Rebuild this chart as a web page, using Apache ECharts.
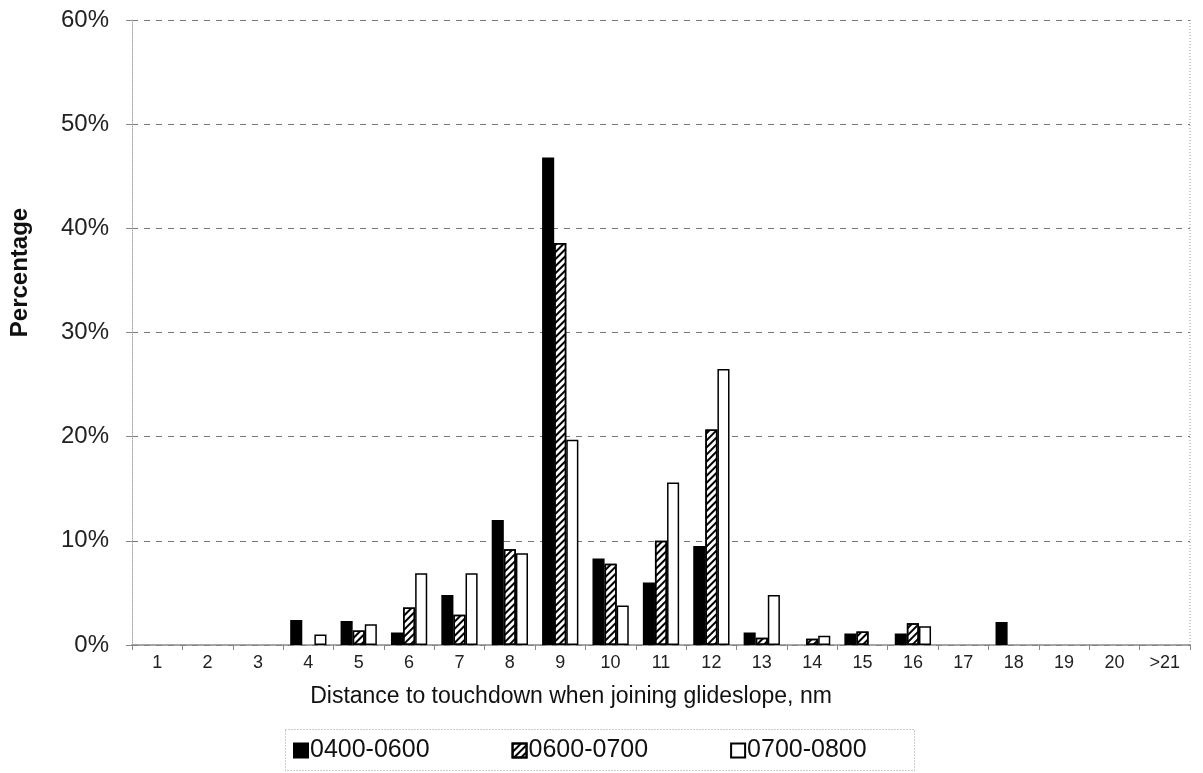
<!DOCTYPE html>
<html><head><meta charset="utf-8">
<script src="https://cdn.jsdelivr.net/npm/echarts@6/dist/echarts.min.js"></script>
<style>html,body{margin:0;padding:0;background:#fff}#c{width:1203px;height:773px}</style>
</head><body><div id="c"></div>
<script>
const categories = ['1','2','3','4','5','6','7','8','9','10','11','12','13','14','15','16','17','18','19','20','>21'];
const s0400_0600 = [null,null,null,2.4,2.3,1.2,4.8,12.0,46.8,8.3,6.0,9.5,1.2,null,1.1,1.1,null,2.2,null,null,null];
const s0600_0700 = [null,null,null,null,1.4,3.6,2.9,9.2,38.6,7.8,10.0,20.7,0.7,0.6,1.3,2.1,null,null,null,null,null];
const s0700_0800 = [null,null,null,1.0,2.0,6.9,6.9,8.8,19.7,3.8,15.6,26.5,4.8,0.9,null,1.8,null,null,null,null,null];
const yTicks = [0,10,20,30,40,50,60];

const font = 'Liberation Sans, Arial, sans-serif';
const hatch = {symbol:'rect', color:'#000', dashArrayX:[1,0], dashArrayY:[2,3], rotation: -Math.PI/4, symbolSize:1};
const chart = echarts.init(document.getElementById('c'), null, {renderer:'canvas'});
chart.setOption({
  animation:false,
  backgroundColor:'#fff',
  textStyle:{fontFamily:font},
  graphic:[{type:'rect', left:283, top:727, shape:{width:629, height:41}, style:{fill:'none', stroke:'#999', lineWidth:1, lineDash:[1,2]}},
           {type:'line', shape:{x1:1190,y1:20,x2:1190,y2:645}, style:{stroke:'#999', lineWidth:1, lineDash:[1,2]}}],
  grid:{left:130, right:13, top:20, bottom:128, containLabel:false},
  legend:{top:733, left:288, itemGap:82, itemWidth:14, itemHeight:14, icon:'rect',
    textStyle:{fontSize:25, color:'#111', fontFamily:font, padding:[0,0,0,-3]},
    data:['0400-0600','0600-0700','0700-0800']},
  xAxis:{type:'category', data:categories,
    name:'Distance to touchdown when joining glideslope, nm', nameLocation:'middle', nameGap:40,
    nameTextStyle:{fontSize:23, color:'#111', fontFamily:font, padding:[0,180,0,0]},
    axisLine:{lineStyle:{color:'#888', width:1.5}},
    axisTick:{show:true, length:5, lineStyle:{color:'#888'}},
    axisLabel:{fontSize:18, color:'#222', margin:9, interval:0}},
  yAxis:{type:'value', min:0, max:60, interval:10,
    name:'Percentage', nameLocation:'middle', nameGap:100, nameRotate:90,
    nameTextStyle:{fontSize:24, fontWeight:'bold', color:'#111', fontFamily:font, padding:[0,0,0,120]},
    axisLine:{show:true, lineStyle:{color:'#aaa', type:'dotted'}},
    axisTick:{show:true, length:6, lineStyle:{color:'#888'}},
    axisLabel:{formatter:'{value}%', fontSize:24, color:'#222', margin:23},
    splitLine:{show:true, lineStyle:{color:'#777', type:[6,6], width:1}}},
  series:[
    {name:'0400-0600', type:'bar', data:s0400_0600, barGap:'0%', barCategoryGap:'28%',
     itemStyle:{color:'#000', borderColor:'#000', borderWidth:1.5}},
    {name:'0600-0700', type:'bar', data:s0600_0700,
     itemStyle:{color:'#fff', borderColor:'#000', borderWidth:1.5, decal:hatch}},
    {name:'0700-0800', type:'bar', data:s0700_0800,
     itemStyle:{color:'#fff', borderColor:'#000', borderWidth:1.5}}
  ]
});
</script></body></html>
